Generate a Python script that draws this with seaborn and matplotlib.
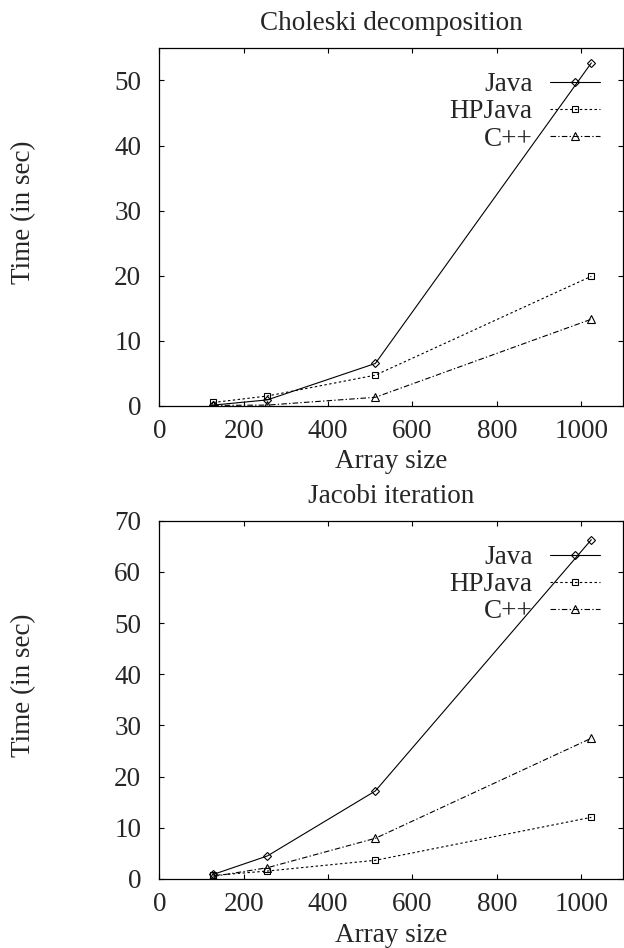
import matplotlib
matplotlib.use("Agg")
import matplotlib.pyplot as plt
import seaborn as sns
import pandas as pd

# ---- data ----
sizes = [128, 256, 512, 1024]
series_names = ["Java", "HPJava", "C++"]

chol_java = [0.1, 0.9, 6.5, 52.7]
chol_hpjava = [0.5, 1.5, 4.7, 19.9]
chol_cpp = [0.05, 0.1, 1.3, 13.3]

jac_java = [0.9, 4.5, 17.2, 66.3]
jac_hpjava = [0.7, 1.55, 3.65, 12.05]
jac_cpp = [0.5, 2.2, 7.95, 27.5]

titles = ["Choleski decomposition", "Jacobi iteration"]
x_label = "Array size"
y_label = "Time (in sec)"
x_ticks = [0, 200, 400, 600, 800, 1000]
y_ticks_top = [0, 10, 20, 30, 40, 50]
y_ticks_bottom = [0, 10, 20, 30, 40, 50, 60, 70]

# ---- style ----
sns.set_style("ticks")
plt.rcParams["font.family"] = ["Liberation Serif", "DejaVu Serif"]
FS = 19.5
plt.rcParams["font.size"] = FS

styles = {
    "Java": dict(linestyle="-", marker="D", markersize=4.2),
    "HPJava": dict(linestyle=(0, (2.2, 2.2)), marker="s", markersize=4.8),
    "C++": dict(linestyle=(0, (5, 2, 1.2, 2)), marker="^", markersize=5.2),
}

fig = plt.figure(figsize=(6.24, 9.48), dpi=100)
ax_top = fig.add_axes([0.2554, 0.5720, 0.7436, 0.3774])
ax_bot = fig.add_axes([0.2554, 0.0728, 0.7436, 0.3779])

panels = [
    (ax_top, [chol_java, chol_hpjava, chol_cpp], titles[0], (0, 55), y_ticks_top),
    (ax_bot, [jac_java, jac_hpjava, jac_cpp], titles[1], (0, 70), y_ticks_bottom),
]

for ax, vals, title, ylim, yticks in panels:
    for name, v in zip(series_names, vals):
        df = pd.DataFrame({"size": sizes, "time": v})
        st = styles[name]
        sns.lineplot(data=df, x="size", y="time", ax=ax, color="black",
                     linewidth=0.8, linestyle=st["linestyle"], marker=st["marker"],
                     markersize=st["markersize"], markerfacecolor="none",
                     markeredgecolor="black", markeredgewidth=0.8,
                     errorbar=None, label=name)
    ax.set_xlim(0, 1100)
    ax.set_ylim(*ylim)
    ax.set_xticks(x_ticks)
    ax.set_yticks(yticks)
    ax.tick_params(direction="in", length=3.5, width=0.8, top=True, right=True,
                   labelsize=FS, color="black")
    ax.tick_params(axis="x", pad=9.5)
    ax.tick_params(axis="y", pad=13)
    for sp in ax.spines.values():
        sp.set_visible(True)
        sp.set_linewidth(0.9)
        sp.set_color("black")
    ax.set_title(title, fontsize=FS, pad=13)
    ax.set_xlabel(x_label, fontsize=FS, labelpad=4)
    ax.set_ylabel(y_label, fontsize=FS)
    ax.yaxis.set_label_coords(-0.265, 0.54)
    leg = ax.legend(loc="upper right", bbox_to_anchor=(0.9505, 0.932),
                    frameon=False, markerfirst=False, fontsize=FS,
                    handlelength=1.85, handletextpad=0.66, labelspacing=0.08,
                    borderpad=0, borderaxespad=0, numpoints=1)
    ax.grid(False)

fig.savefig("out.png", dpi=100)
